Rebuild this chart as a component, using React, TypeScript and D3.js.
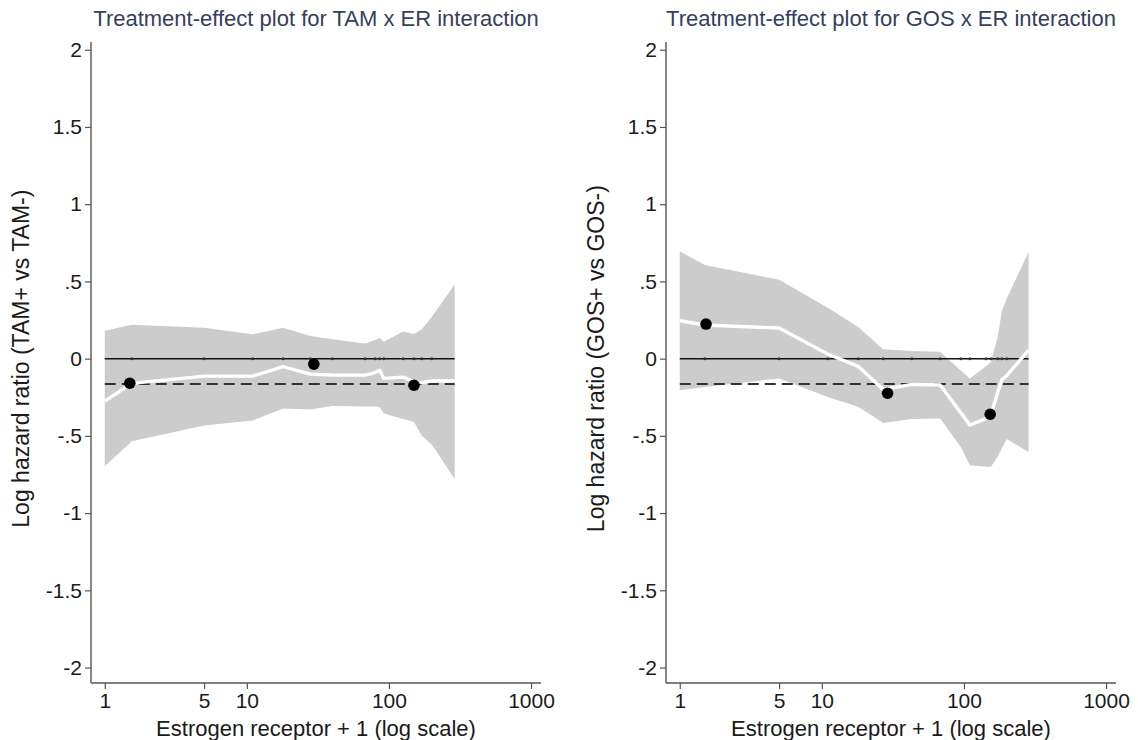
import { useEffect, useRef } from "react";
import * as d3 from "d3";

const W = 1138;
const H = 740;

// ER + 1 values where the TAM curves are evaluated
const TAM_X = [1, 1.55, 5, 11, 18, 28, 40, 68, 80, 86, 92, 126, 150, 170, 200, 290];
const TAM_UPPER = [0.18, 0.22, 0.2, 0.158, 0.2, 0.147, 0.125, 0.098, 0.12, 0.135, 0.11, 0.175, 0.16, 0.19, 0.27, 0.48];
const TAM_LOWER = [-0.697, -0.535, -0.433, -0.4, -0.323, -0.329, -0.307, -0.31, -0.31, -0.315, -0.355, -0.39, -0.41, -0.5, -0.556, -0.78];
const TAM_EST = [-0.275, -0.16, -0.113, -0.113, -0.052, -0.1, -0.106, -0.107, -0.09, -0.075, -0.128, -0.12, -0.15, -0.155, -0.145, -0.145];
const TAM_PT_X = [1.5, 29.6, 150];
const TAM_PT_Y = [-0.159, -0.036, -0.172];
const TAM_OVERALL = -0.165;

// ER + 1 values where the GOS curves are evaluated
const GOS_X = [1, 1.5, 5, 11, 18, 27, 43, 68, 95, 110, 143, 155, 173, 185, 200, 285];
const GOS_UPPER = [0.695, 0.606, 0.51, 0.33, 0.205, 0.06, 0.05, 0.044, -0.076, -0.128, -0.05, -0.02, 0.141, 0.31, 0.39, 0.69];
const GOS_LOWER = [-0.204, -0.183, -0.128, -0.248, -0.312, -0.416, -0.39, -0.388, -0.572, -0.69, -0.7, -0.7, -0.634, -0.58, -0.52, -0.605];
const GOS_EST = [0.245, 0.218, 0.198, 0.03, -0.05, -0.2, -0.167, -0.17, -0.35, -0.43, -0.388, -0.36, -0.217, -0.136, -0.11, 0.055];
const GOS_PT_X = [1.53, 29, 153];
const GOS_PT_Y = [0.224, -0.224, -0.36];
const GOS_OVERALL = -0.165;

const Y_TICKS = [2, 1.5, 1, 0.5, 0, -0.5, -1, -1.5, -2];
const X_TICKS = [1, 5, 10, 100, 1000];

const FONT = "'Liberation Sans', Arial, Helvetica, sans-serif";

const PANELS = [
  {
    left: 91, right: 541,
    title: "Treatment-effect plot for TAM x ER interaction",
    ylabel: "Log hazard ratio (TAM+ vs TAM-)",
    xs: TAM_X, upper: TAM_UPPER, lower: TAM_LOWER, est: TAM_EST,
    ptX: TAM_PT_X, ptY: TAM_PT_Y, overall: TAM_OVERALL,
  },
  {
    left: 666, right: 1116,
    title: "Treatment-effect plot for GOS x ER interaction",
    ylabel: "Log hazard ratio (GOS+ vs GOS-)",
    xs: GOS_X, upper: GOS_UPPER, lower: GOS_LOWER, est: GOS_EST,
    ptX: GOS_PT_X, ptY: GOS_PT_Y, overall: GOS_OVERALL,
  },
];

const fmtY = (d: number) => (d === 0 ? "0" : String(d).replace("0.", "."));

export default function App() {
  const svgRef = useRef<SVGSVGElement>(null);

  useEffect(() => {
    const svg = d3.select(svgRef.current);
    svg.selectAll("*").remove();

    svg.append("rect").attr("width", W).attr("height", H).attr("fill", "#fff");

    const TOP = 42, BOTTOM = 683;
    const y = d3.scaleLinear().domain([-2.1, 2.05]).range([BOTTOM, TOP]);

    PANELS.forEach(p => {
      const x = d3.scaleLog().domain([0.8, 1175]).range([p.left, p.right]);
      const g = svg.append("g");
      const idx = d3.range(p.xs.length);
      const x0 = p.xs[0], x1 = p.xs[p.xs.length - 1];

      // confidence band
      const area = d3.area<number>()
        .x(i => x(p.xs[i]))
        .y0(i => y(p.lower[i]))
        .y1(i => y(p.upper[i]));
      g.append("path").attr("d", area(idx)).attr("fill", "#cccccc");

      // zero line, with faint markers at the evaluation points
      g.append("line")
        .attr("x1", x(x0)).attr("x2", x(x1))
        .attr("y1", y(0)).attr("y2", y(0))
        .attr("stroke", "#111").attr("stroke-width", 1.5);
      g.selectAll("circle.zm")
        .data(idx.slice(1, -1))
        .join("circle")
        .attr("class", "zm")
        .attr("cx", i => x(p.xs[i]))
        .attr("cy", y(0))
        .attr("r", 1.5)
        .attr("fill", "#333");

      // overall effect (dashed)
      g.append("line")
        .attr("x1", x(x0)).attr("x2", x(x1))
        .attr("y1", y(p.overall)).attr("y2", y(p.overall))
        .attr("stroke", "#333").attr("stroke-width", 2)
        .attr("stroke-dasharray", "11,6");

      // estimate curve
      const line = d3.line<number>()
        .x(i => x(p.xs[i]))
        .y(i => y(p.est[i]));
      g.append("path").attr("d", line(idx))
        .attr("fill", "none").attr("stroke", "#fff").attr("stroke-width", 3.4)
        .attr("stroke-linejoin", "round");

      // group estimates
      g.selectAll("circle.pt")
        .data(d3.range(p.ptX.length))
        .join("circle")
        .attr("class", "pt")
        .attr("cx", i => x(p.ptX[i]))
        .attr("cy", i => y(p.ptY[i]))
        .attr("r", 5.8)
        .attr("fill", "#000");

      // Y axis
      const ya = g.append("g")
        .attr("transform", `translate(${p.left},0)`)
        .call(d3.axisLeft(y).tickValues(Y_TICKS).tickFormat(d => fmtY(+d)).tickSize(6).tickPadding(3));
      // X axis
      const xa = g.append("g")
        .attr("transform", `translate(0,${BOTTOM})`)
        .call(d3.axisBottom(x).tickValues(X_TICKS).tickFormat(d => String(d)).tickSize(6).tickPadding(4));

      [ya, xa].forEach(a => {
        a.select(".domain").attr("stroke", "#555").attr("stroke-width", 1.4);
        a.selectAll(".tick line").attr("stroke", "#555").attr("stroke-width", 1.2);
        a.selectAll("text")
          .attr("fill", "#1a1a1a")
          .attr("font-size", 21)
          .attr("font-family", FONT);
      });
      // remove outer tick caps
      ya.select(".domain").attr("d", `M0,${BOTTOM}V${TOP}`);
      xa.select(".domain").attr("d", `M${p.left},0H${p.right}`);

      // titles
      const cx = (p.left + p.right) / 2;
      g.append("text")
        .attr("x", cx).attr("y", 26)
        .attr("text-anchor", "middle")
        .attr("font-size", 22).attr("font-family", FONT)
        .attr("fill", "#34405e")
        .text(p.title);

      g.append("text")
        .attr("x", cx).attr("y", 736)
        .attr("text-anchor", "middle")
        .attr("font-size", 22).attr("font-family", FONT)
        .attr("fill", "#1a1a1a")
        .text("Estrogen receptor + 1 (log scale)");

      g.append("text")
        .attr("transform", `translate(${p.left - 62},${y(0)}) rotate(-90)`)
        .attr("text-anchor", "middle")
        .attr("font-size", 23).attr("font-family", FONT)
        .attr("fill", "#1a1a1a")
        .text(p.ylabel);
    });
  }, []);

  return (
    <svg
      ref={svgRef}
      width={W}
      height={H}
      style={{ position: "absolute", left: 0, top: 0, display: "block" }}
    />
  );
}
